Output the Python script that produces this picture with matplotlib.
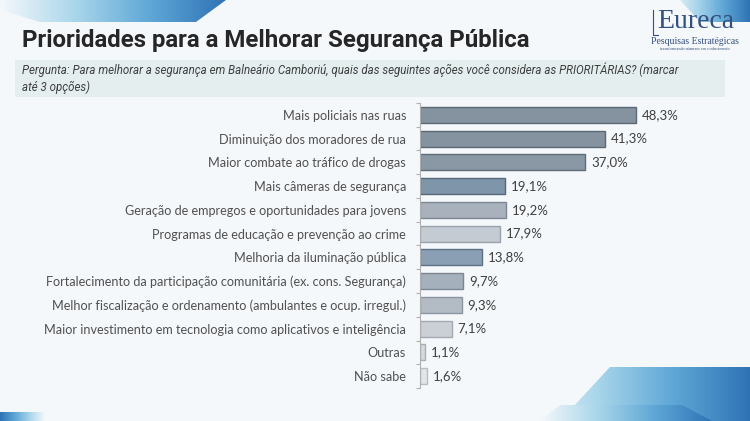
import numpy as np
import matplotlib.pyplot as plt
from matplotlib.patches import Polygon, Rectangle
from matplotlib.colors import LinearSegmentedColormap

# Dados
categorias = [
    'Mais policiais nas ruas',
    'Diminuição dos moradores de rua',
    'Maior combate ao tráfico de drogas',
    'Mais câmeras de segurança',
    'Geração de empregos e oportunidades para jovens',
    'Programas de educação e prevenção ao crime',
    'Melhoria da iluminação pública',
    'Fortalecimento da participação comunitária (ex. cons. Segurança)',
    'Melhor fiscalização e ordenamento (ambulantes e ocup. irregul.)',
    'Maior investimento em tecnologia como aplicativos e inteligência',
    'Outras',
    'Não sabe',
]
valores = [48.3, 41.3, 37.0, 19.1, 19.2, 17.9, 13.8, 9.7, 9.3, 7.1, 1.1, 1.6]
rotulos = ['48,3%', '41,3%', '37,0%', '19,1%', '19,2%', '17,9%',
           '13,8%', '9,7%', '9,3%', '7,1%', '1,1%', '1,6%']

cores = ['#8593a0', '#8593a0', '#8a98a6', '#7f96aa', '#a9b2bc', '#c5cbd2',
         '#8a9fb3', '#a5b0bd', '#b3bbc5', '#cbd0d6', '#d5d8dc', '#e3e5e8']
bordas = ['#5c6873', '#5c6873', '#5f6b77', '#56697b', '#7e8893', '#9aa2ab',
          '#5d7186', '#7c8794', '#8b94a0', '#a2a9b1', '#a9aeb4', '#b9bdc2']

W, H = 750, 421
fig = plt.figure(figsize=(7.5, 4.21), dpi=100)
fig.patch.set_facecolor('#f5f8fb')

# camada de fundo (coordenadas em pixels, y para baixo)
bg = fig.add_axes([0, 0, 1, 1], zorder=0)
bg.set_xlim(0, W)
bg.set_ylim(H, 0)
bg.axis('off')

azul = LinearSegmentedColormap.from_list('azul', ['#f5f8fb', '#a9d6ea', '#5fa7d6', '#2f73b5'])


def forma_gradiente(pts, x0, x1, y0, y1, inverter=False):
    grad = np.linspace(0, 1, 256)
    if inverter:
        grad = grad[::-1]
    img = bg.imshow(np.vstack([grad, grad]), cmap=azul, aspect='auto',
                    extent=(x0, x1, y1, y0), zorder=1)
    poly = Polygon(pts, closed=True, facecolor='none', edgecolor='none')
    bg.add_patch(poly)
    img.set_clip_path(poly)


forma_gradiente([(0, 0), (226, 0), (196, 22), (40, 22), (0, 10)], 0, 226, 0, 22)
forma_gradiente([(680, 0), (750, 0), (750, 22), (700, 22)], 670, 750, 0, 22)
forma_gradiente([(610, 367), (750, 367), (750, 421), (560, 421)], 520, 750, 367, 421)
forma_gradiente([(560, 405), (682, 405), (712, 421), (540, 421)], 540, 712, 405, 421)
forma_gradiente([(0, 412), (45, 412), (45, 421), (0, 421)], 0, 45, 412, 421, inverter=True)

# caixa da pergunta
bg.add_patch(Rectangle((15, 60), 710, 37, facecolor='#e4eeef', edgecolor='none', zorder=2))

bg.text(22, 41, 'Prioridades para a Melhorar Segurança Pública', fontsize=17.3,
        fontweight='bold', family='Roboto', color='#262626', va='center', zorder=3)
bg.text(22, 78, 'Pergunta: Para melhorar a segurança em Balneário Camboriú, quais das seguintes '
        'ações você considera as PRIORITÁRIAS? (marcar\naté 3 opções)',
        fontsize=8.3, style='italic', family='Roboto', color='#3f3f3f',
        va='center', linespacing=1.35, zorder=3)

# logotipo
bg.text(696, 22, 'Eureca', fontsize=20, family='Liberation Serif', color='#34507e',
        ha='center', va='center', zorder=3)
bg.plot([653, 653, 658], [10, 35, 35], color='#34507e', lw=0.8, zorder=3)
bg.text(695, 42, 'Pesquisas Estratégicas', fontsize=7, family='Liberation Serif',
        color='#34507e', ha='center', va='center', zorder=3)
bg.text(695, 49, 'transformando números em conhecimento', fontsize=3,
        family='Liberation Serif', color='#34507e', ha='center', va='center', zorder=3)

# gráfico de barras
ax = fig.add_axes([420 / W, 1 - 388 / H, 280 / W, 285 / H], zorder=2)
ax.set_facecolor('none')
y = np.arange(len(categorias))
ax.barh(y, valores, height=0.68, color=cores, edgecolor=bordas, linewidth=1.0)
for yi, v, r in zip(y, valores, rotulos):
    ax.text(v + 1.3, yi, r, va='center', ha='left', fontsize=9.5,
            family='Lato', color='#3f3f3f')

ax.set_xlim(0, 62.6)
ax.set_ylim(len(categorias) - 0.5, -0.5)
ax.set_yticks(y)
ax.set_yticklabels(categorias, fontsize=9.1, family='Lato', color='#505050')
ax.set_yticks(np.arange(-0.5, len(categorias)), minor=True)
ax.tick_params(axis='y', which='major', length=0, pad=10)
ax.tick_params(axis='y', which='minor', length=3, color='#b0b0b0', width=0.8)
ax.set_xticks([])
for s in ['top', 'right', 'bottom']:
    ax.spines[s].set_visible(False)
ax.spines['left'].set_color('#b0b0b0')
ax.spines['left'].set_linewidth(0.8)

fig.savefig('out.png', dpi=100, facecolor=fig.get_facecolor())
